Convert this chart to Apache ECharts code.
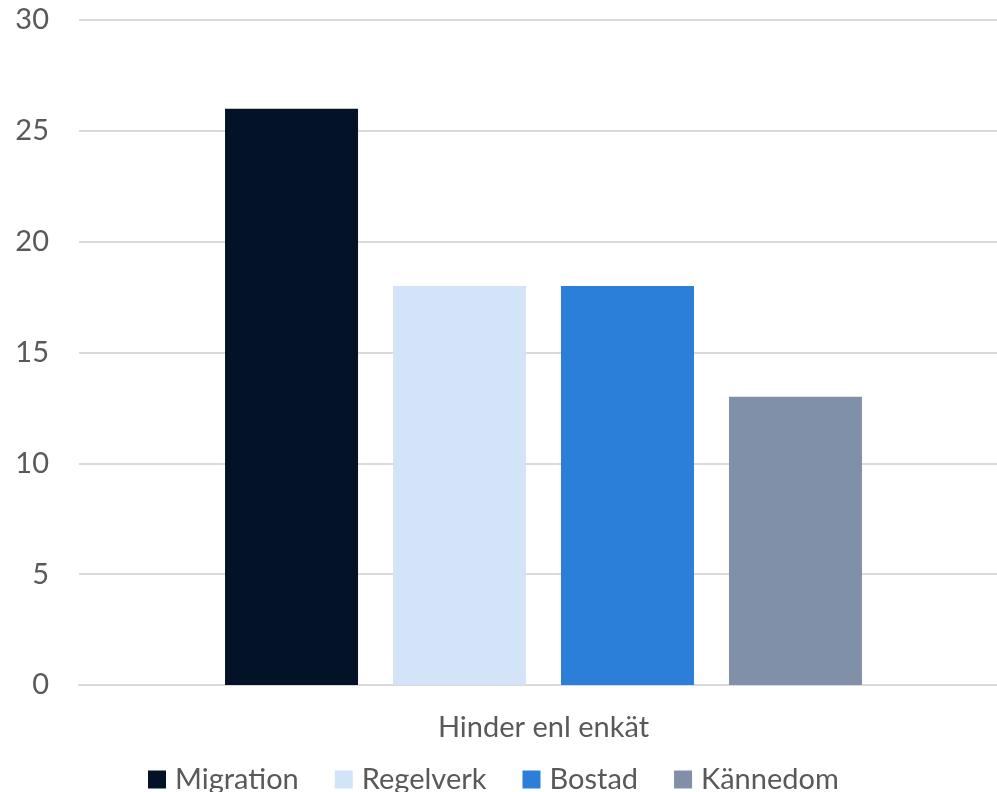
<!DOCTYPE html>
<html>
<head>
<meta charset="utf-8">
<script src="https://cdn.jsdelivr.net/npm/echarts@6/dist/echarts.min.js"></script>
<style>
  html, body { margin: 0; padding: 0; background: #fff; }
  #chart { width: 997px; height: 792px; }
</style>
</head>
<body>
<div id="chart"></div>
<script>
// Survey: reported obstacles, one category with four series
const categories = ['Hinder enl enkät'];
const seriesNames = ['Migration', 'Regelverk', 'Bostad', 'Kännedom'];
const seriesValues = [[26], [18], [18], [13]];
const seriesColors = ['#041228', '#D3E3F8', '#2C7FD8', '#8090A8'];
const yTicks = { min: 0, max: 30, interval: 5 };

const font = 'Lato';
const textColor = '#595959';

const chart = echarts.init(document.getElementById('chart'), null, { renderer: 'canvas' });

chart.setOption({
  animation: false,
  textStyle: { fontFamily: font },
  grid: { left: 79, top: 20, right: -11, bottom: 107, containLabel: false, outerBoundsMode: 'none' },
  legend: {
    data: seriesNames,
    bottom: -7,
    left: 143,
    itemWidth: 18,
    itemHeight: 18,
    itemGap: 36,
    icon: 'rect',
    textStyle: { fontFamily: font, fontSize: 29, color: textColor, padding: [0, 0, 0, 4] }
  },
  xAxis: {
    type: 'category',
    data: categories,
    axisLine: { show: true, lineStyle: { color: '#D9D9D9', width: 2 } },
    axisTick: { show: false },
    axisLabel: { fontFamily: font, fontSize: 29, color: textColor, margin: 28 }
  },
  yAxis: {
    type: 'value',
    min: yTicks.min,
    max: yTicks.max,
    interval: yTicks.interval,
    axisLine: { show: false },
    axisTick: { show: false },
    splitLine: { lineStyle: { color: '#D9D9D9', width: 2 } },
    axisLabel: { fontFamily: font, fontSize: 29, color: textColor, margin: 30, align: 'right' }
  },
  series: seriesNames.map((name, i) => ({
    name: name,
    type: 'bar',
    data: seriesValues[i],
    barWidth: 133,
    barGap: '26.3%',
    itemStyle: { color: seriesColors[i] }
  }))
});
</script>
</body>
</html>
